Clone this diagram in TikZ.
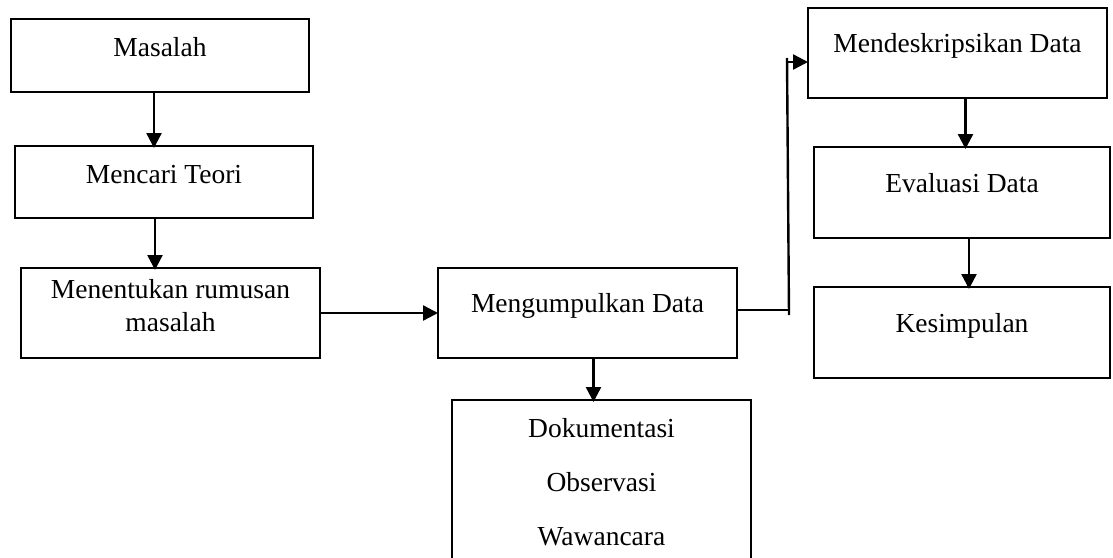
\documentclass[tikz,border=0pt]{standalone}
\usepackage{fontspec}
\setmainfont{Liberation Serif}
\usetikzlibrary{arrows.meta}
\begin{document}
\begin{tikzpicture}[x=1pt,y=1pt,
  pbox/.style={draw=black,line width=2.7pt,inner sep=0pt,outer sep=0pt,rectangle},
  lbl/.style={inner sep=0pt,anchor=base,font=\fontsize{27.5}{33}\selectfont},
  arr/.style={line width=2.4pt,-{Triangle[length=15pt,width=15pt]}},
  ln/.style={line width=2.4pt}]
\useasboundingbox (0,0) rectangle (1113,-557);
\clip (0,0) rectangle (1113,-557);
% boxes
\node[pbox,minimum width=298pt,minimum height=73pt] (masalah) at (160,-55.5) {};
\node[pbox,minimum width=298pt,minimum height=72pt] (teori) at (164,-182) {};
\node[pbox,minimum width=299pt,minimum height=90pt] (rumusan) at (170.5,-313) {};
\node[pbox,minimum width=299pt,minimum height=90pt] (kumpul) at (587.5,-313) {};
\node[pbox,minimum width=299pt,minimum height=200pt] (dok) at (601.5,-500) {};
\node[pbox,minimum width=299pt,minimum height=90pt] (desk) at (957.5,-53) {};
\node[pbox,minimum width=296pt,minimum height=91pt] (eval) at (962,-192.5) {};
\node[pbox,minimum width=296pt,minimum height=91pt] (simpul) at (962,-332.5) {};
% texts
\node[lbl] (t1) at (160,-56) {Masalah};
\node[lbl] (t2) at (164,-183) {Mencari Teori};
\node[lbl] (t3) at (170.5,-298) {Menentukan rumusan};
\node[lbl] (t4) at (170.5,-331) {masalah};
\node[lbl] (t5) at (587.5,-312) {Mengumpulkan Data};
\node[lbl] (t6) at (601.5,-437) {Dokumentasi};
\node[lbl] (t7) at (601.5,-491) {Observasi};
\node[lbl] (t8) at (601.5,-545) {Wawancara};
\node[lbl] (t9) at (957.5,-52) {Mendeskripsikan Data};
\node[lbl] (t10) at (962,-192) {Evaluasi Data};
\node[lbl] (t11) at (962,-332) {Kesimpulan};
% connectors
\draw[arr] ([xshift=-6pt]masalah.south) -- ([xshift=-6pt,yshift=-2pt]masalah.south |- teori.north);
\draw[arr] ([xshift=-9pt]teori.south) -- ([xshift=-9pt,yshift=-2pt]teori.south |- rumusan.north);
\draw[arr] (rumusan.east) -- (kumpul.west);
\draw[arr] ([xshift=6pt]kumpul.south) -- ([xshift=6pt,yshift=-2pt]kumpul.south |- dok.north);
\draw[arr] ([xshift=8pt]desk.south) -- ([xshift=8pt,yshift=-2pt]desk.south |- eval.north);
\draw[arr] ([xshift=7pt]eval.south) -- ([xshift=7pt,yshift=-2pt]eval.south |- simpul.north);
% elbow to Mendeskripsikan Data
\coordinate (e1) at (789,-310);
\coordinate (vbot) at (789,-315);
\coordinate (vtop) at (787,-58);
\coordinate (e2) at (787,-62);
\draw[ln] ([yshift=3pt]kumpul.east) -- (e1);
\draw[ln] (vbot) -- (vtop);
\draw[arr] (e2) -- (e2 -| desk.west);
\end{tikzpicture}
\end{document}
